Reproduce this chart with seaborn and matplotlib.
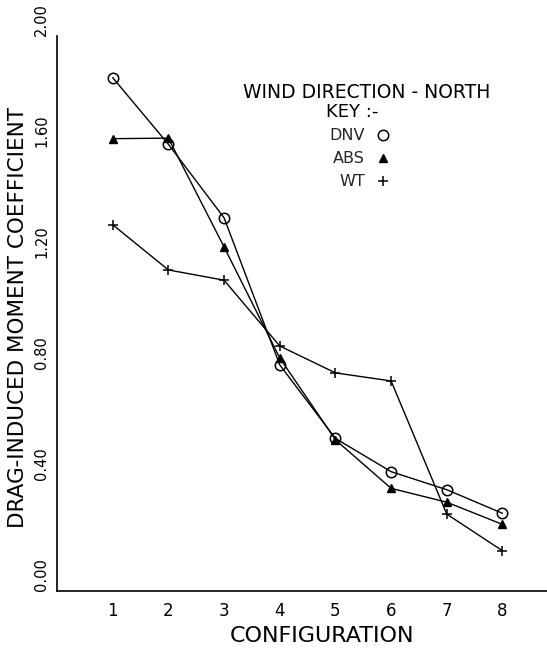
import matplotlib
matplotlib.use("Agg")
import matplotlib.pyplot as plt
import seaborn as sns
import pandas as pd
from matplotlib.lines import Line2D

configs = [1, 2, 3, 4, 5, 6, 7, 8]
dnv = [1.85, 1.61, 1.345, 0.815, 0.55, 0.43, 0.365, 0.28]
abs_ = [1.63, 1.632, 1.24, 0.84, 0.545, 0.37, 0.32, 0.24]
wt = [1.32, 1.157, 1.12, 0.883, 0.786, 0.757, 0.277, 0.145]
y_ticks = [0.0, 0.4, 0.8, 1.2, 1.6, 2.0]
y_tick_labels = ["0.00", "0.40", "0.80", "1.20", "1.60", "2.00"]
series_names = ["DNV", "ABS", "WT"]

sns.set_theme(style="white")
plt.rcParams['font.family'] = ['DejaVu Sans']

fig = plt.figure(figsize=(5.47, 6.52), dpi=100)
ax = fig.add_axes([57/547, 61/652, 490/547, 555/652])

df = pd.DataFrame({"config": configs * 3,
                   "value": dnv + abs_ + wt,
                   "series": ["DNV"] * 8 + ["ABS"] * 8 + ["WT"] * 8})

styles = {
    "DNV": dict(marker="o", markersize=7.5, markerfacecolor="none", markeredgewidth=1.1),
    "ABS": dict(marker="^", markersize=5.5, markerfacecolor="black", markeredgewidth=1.0),
    "WT": dict(marker="+", markersize=7, markeredgewidth=1.1),
}
for name in series_names:
    sub = df[df.series == name]
    sns.lineplot(data=sub, x="config", y="value", ax=ax, color="black",
                 linewidth=1.0, markeredgecolor="black", **styles[name])

ax.set_xlim(0, 8.8)
ax.set_ylim(0, 2.0)
ax.set_xticks(configs)
ax.set_xticklabels([str(c) for c in configs], fontsize=12)
ax.set_yticks(y_ticks)
ax.set_yticklabels(y_tick_labels, fontsize=10.5, rotation=90, ha="right", va="bottom")
ax.tick_params(axis="x", direction="out", length=4, width=1, pad=4, colors="black")
ax.tick_params(axis="y", direction="out", length=4, width=1, pad=1.5, colors="black")
for s in ["top", "right"]:
    ax.spines[s].set_visible(False)
for s in ["left", "bottom"]:
    ax.spines[s].set_color("black")
    ax.spines[s].set_linewidth(1.2)

ax.set_xlabel("CONFIGURATION", fontsize=16, color="black")
ax.xaxis.set_label_coords(0.541, -0.081)
ax.xaxis.label.set_va("center")
ax.set_ylabel("DRAG-INDUCED MOMENT COEFFICIENT", fontsize=15.5, color="black")
ax.yaxis.set_label_coords(-0.0796, 0.492)
ax.yaxis.label.set_va("center")

ax.text(0.631, 0.899, "WIND DIRECTION - NORTH", transform=ax.transAxes,
        ha="center", va="center", fontsize=13.5, color="black")
ax.text(0.602, 0.863, "KEY :-", transform=ax.transAxes,
        ha="center", va="center", fontsize=13, color="black")

handles = [Line2D([], [], color="black", linestyle="none", markeredgecolor="black",
                  **styles[n]) for n in series_names]
ax.legend(handles, series_names, loc="upper left", bbox_to_anchor=(0.54, 0.848),
          frameon=False, markerfirst=False, handlelength=1.0, handletextpad=0.6,
          labelspacing=0.5, fontsize=11.5, borderpad=0)

fig.savefig("out.png", dpi=100)
